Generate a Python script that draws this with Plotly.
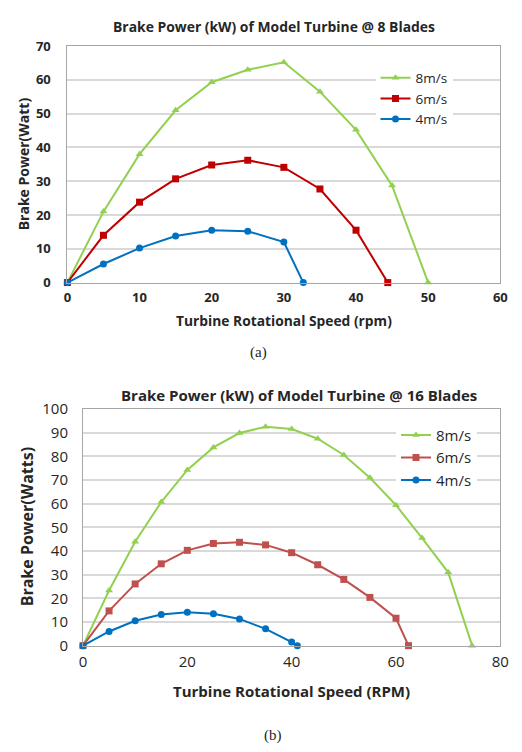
import plotly.graph_objects as go

W, H = 522, 752

# ---- data: chart (a) 8 blades ----
a_x8 = [0, 5, 10, 15, 20, 25, 30, 35, 40, 45, 50]
a_y8 = [0, 21, 38, 51, 59.3, 63, 65.2, 56.5, 45.2, 28.7, 0]
a_x6 = [0, 5, 10, 15, 20, 25, 30, 35, 40, 44.4]
a_y6 = [0, 14, 23.8, 30.7, 34.8, 36.2, 34.1, 27.7, 15.5, 0]
a_x4 = [0, 5, 10, 15, 20, 25, 30, 32.7]
a_y4 = [0, 5.5, 10.2, 13.8, 15.5, 15.2, 12, 0]

# ---- data: chart (b) 16 blades ----
b_x8 = [0, 5, 10, 15, 20, 25, 30, 35, 40, 45, 50, 55, 60, 65, 70, 74.6]
b_y8 = [0, 23.3, 43.9, 60.7, 74.3, 83.8, 89.9, 92.5, 91.6, 87.5, 80.6, 71, 59.4, 45.5, 31, 0]
b_x6 = [0, 5, 10, 15, 20, 25, 30, 35, 40, 45, 50, 55, 60, 62.4]
b_y6 = [0, 14.7, 26.1, 34.6, 40.3, 43.2, 43.7, 42.6, 39.3, 34.2, 28, 20.4, 11.6, 0]
b_x4 = [0, 5, 10, 15, 20, 25, 30, 35, 40, 41.1]
b_y4 = [0, 6, 10.5, 13.2, 14.1, 13.5, 11.3, 7.1, 1.5, 0]

labels = ["8m/s", "6m/s", "4m/s"]
symbols = ["triangle-up", "square", "circle"]
a_colors = ["#92D050", "#C00000", "#0070C0"]
b_colors = ["#92D050", "#C0504D", "#0070C0"]

a_title = "Brake Power (kW) of Model Turbine @ 8 Blades"
b_title = "Brake Power (kW) of Model Turbine @ 16 Blades"
a_xtitle = "Turbine Rotational Speed (rpm)"
b_xtitle = "Turbine Rotational Speed (RPM)"
a_ytitle = "Brake Power(Watt)"
b_ytitle = "Brake Power(Watts)"

FONT = "Open Sans"

def px_x(p):
    return p / W

def px_y(p):
    return 1 - p / H

fig = go.Figure()

for xs, ys, lab, sym, col in zip([a_x8, a_x6, a_x4], [a_y8, a_y6, a_y4], labels, symbols, a_colors):
    fig.add_trace(go.Scatter(x=xs, y=ys, name=lab, mode="lines+markers",
                             line=dict(color=col, width=2),
                             marker=dict(symbol=sym, size=7, color=col),
                             cliponaxis=False, xaxis="x", yaxis="y", legend="legend"))

for xs, ys, lab, sym, col in zip([b_x8, b_x6, b_x4], [b_y8, b_y6, b_y4], labels, symbols, b_colors):
    fig.add_trace(go.Scatter(x=xs, y=ys, name=lab, mode="lines+markers",
                             line=dict(color=col, width=2),
                             marker=dict(symbol=sym, size=7, color=col),
                             cliponaxis=False, xaxis="x2", yaxis="y2", legend="legend2"))

grid = "#D9D9D9"
axline = "#A6A6A6"

fig.update_layout(
    width=W, height=H,
    margin=dict(l=0, r=0, t=0, b=0),
    paper_bgcolor="white", plot_bgcolor="white",
    showlegend=True,
    xaxis=dict(domain=[px_x(65), px_x(509)], anchor="y", range=[0, 60], dtick=10,
               showgrid=False, zeroline=False, showline=True, mirror=True, linecolor=axline,
               tickfont=dict(family=FONT, size=13, color="#262626", weight="bold"),
               ticks="", ticklabelstandoff=3),
    yaxis=dict(domain=[px_y(279), px_y(36)], anchor="x", range=[0, 70], dtick=10,
               showgrid=True, gridcolor=grid, gridwidth=1.5, zeroline=False,
               showline=True, mirror=True, linecolor=axline,
               tickfont=dict(family=FONT, size=13, color="#262626", weight="bold"),
               ticks="", ticklabelstandoff=13),
    xaxis2=dict(domain=[px_x(81), px_x(509)], anchor="y2", range=[0, 80], dtick=20,
                showgrid=False, zeroline=False, showline=True, mirror=True, linecolor=axline,
                tickfont=dict(family=FONT, size=15, color="#262626"),
                ticks="", ticklabelstandoff=2),
    yaxis2=dict(domain=[px_y(652), px_y(409)], anchor="x2", range=[0, 100], dtick=10,
                showgrid=True, gridcolor=grid, gridwidth=1.5, zeroline=False,
                showline=True, mirror=True, linecolor=axline,
                tickfont=dict(family=FONT, size=15, color="#262626"),
                ticks="", ticklabelstandoff=11),
    legend=dict(x=px_x(381), y=px_y(53), xanchor="left", yanchor="top",
                bgcolor="white", borderwidth=0, itemwidth=30, tracegroupgap=0,
                font=dict(family=FONT, size=13.5, color="#262626")),
    legend2=dict(x=px_x(402), y=px_y(419), xanchor="left", yanchor="top",
                 bgcolor="white", borderwidth=0, itemwidth=30, tracegroupgap=0,
                 font=dict(family=FONT, size=15, color="#262626")),
)

ann = [
    dict(text=a_title, x=px_x(277), y=px_y(16), font=dict(size=13.9, weight="bold")),
    dict(text=a_xtitle, x=px_x(287), y=px_y(318), font=dict(size=13.8, weight="bold")),
    dict(text=a_ytitle, x=px_x(20), y=px_y(157), textangle=-90, font=dict(size=14, weight="bold")),
    dict(text="(a)", x=px_x(261), y=px_y(351), font=dict(size=15, family="Liberation Serif", weight="normal")),
    dict(text=b_title, x=px_x(303), y=px_y(394), font=dict(size=15, weight="bold")),
    dict(text=b_xtitle, x=px_x(295), y=px_y(699), font=dict(size=15, weight="bold")),
    dict(text=b_ytitle, x=px_x(24), y=px_y(530), textangle=-90, font=dict(size=16, weight="bold")),
    dict(text="(b)", x=px_x(276), y=px_y(744), font=dict(size=15, family="Liberation Serif", weight="normal")),
]
for a in ann:
    f = dict(family=FONT, color="#262626")
    f.update(a.pop("font"))
    fig.add_annotation(xref="paper", yref="paper", showarrow=False,
                       xanchor="center", yanchor="middle", font=f, **a)

fig.write_html("out.html", config={"displayModeBar": False},
               post_script="document.body.style.margin='0';")
